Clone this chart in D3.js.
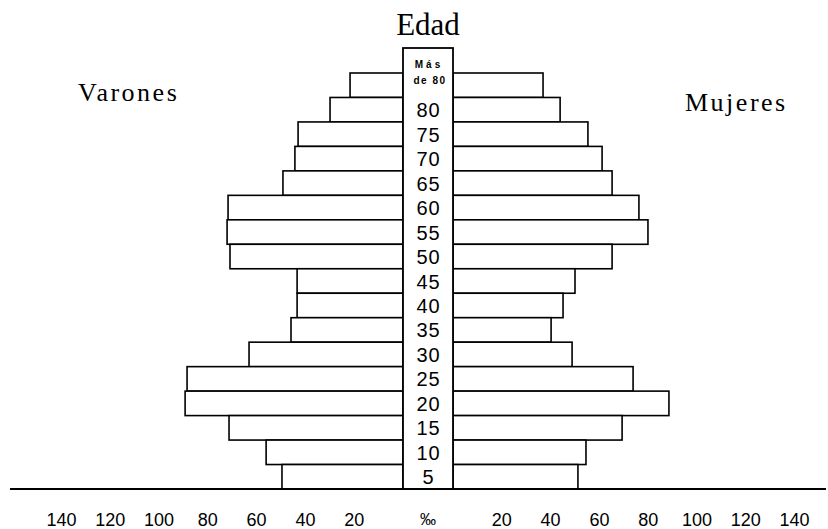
<!DOCTYPE html>
<html>
<head>
<meta charset="utf-8">
<script src="https://cdn.jsdelivr.net/npm/d3@7"></script>
<style>
  body { margin: 0; background: #fff; }
  svg { display: block; }
</style>
</head>
<body>
<svg id="chart" width="828" height="529"></svg>
<script>
// age groups, top to bottom
var ages = ["Más de 80", "80", "75", "70", "65", "60", "55", "50", "45", "40", "35", "30", "25", "20", "15", "10", "5"];
// per mil
var varones = [21.7, 29.9, 43.0, 44.3, 49.2, 71.7, 72.1, 70.9, 43.4, 43.4, 45.9, 63.1, 88.5, 89.3, 71.3, 56.1, 49.6];
var mujeres = [36.9, 43.9, 55.3, 61.1, 65.2, 76.2, 79.9, 65.2, 50.0, 45.1, 40.2, 48.8, 73.8, 88.5, 69.3, 54.5, 51.2];
var leftTicks = [140, 120, 100, 80, 60, 40, 20];
var rightTicks = [20, 40, 60, 80, 100, 120, 140];

var svg = d3.select("#chart");

var colL = 403, colR = 453, baseY = 489;
var ppu = 2.44;

var xL = d3.scaleLinear().domain([0, 140]).range([colL, colL - 140 * ppu]);
var xR = d3.scaleLinear().domain([0, 140]).range([colR, colR + 140 * ppu]);
var y = d3.scaleBand().domain(ages).range([73, baseY]).paddingInner(0);

var serif = "'Liberation Serif', 'DejaVu Serif', serif";
var sans = "'Liberation Sans', Arial, sans-serif";

// bars
svg.append("g").selectAll("rect").data(ages).enter().append("rect")
    .attr("x", function(d, i) { return xL(varones[i]) })
    .attr("y", function(d) { return y(d) })
    .attr("width", function(d, i) { return colL - xL(varones[i]) })
    .attr("height", y.bandwidth())
    .attr("fill", "#fff")
    .attr("stroke", "#000")
    .attr("stroke-width", 1.6);

svg.append("g").selectAll("rect").data(ages).enter().append("rect")
    .attr("x", colR)
    .attr("y", function(d) { return y(d) })
    .attr("width", function(d, i) { return xR(mujeres[i]) - colR })
    .attr("height", y.bandwidth())
    .attr("fill", "#fff")
    .attr("stroke", "#000")
    .attr("stroke-width", 1.6);

// centre column
svg.append("rect")
    .attr("x", colL).attr("y", 48)
    .attr("width", colR - colL).attr("height", baseY - 48)
    .attr("fill", "#fff")
    .attr("stroke", "#000")
    .attr("stroke-width", 1.8);

// base line
svg.append("line")
    .attr("x1", 10).attr("x2", 826)
    .attr("y1", baseY).attr("y2", baseY)
    .attr("stroke", "#000")
    .attr("stroke-width", 2.2);

// age labels
var cx = (colL + colR) / 2;
svg.append("g").selectAll("text").data(ages.slice(1)).enter().append("text")
    .attr("x", cx + 0.5)
    .attr("y", function(d) { return y(d) + y.bandwidth() / 2 + 7.5 })
    .attr("text-anchor", "middle")
    .attr("font-family", sans)
    .attr("font-size", 20)
    .attr("letter-spacing", 1)
    .text(function(d) { return d });

var topLabel = svg.append("text")
    .attr("text-anchor", "middle")
    .attr("font-family", sans)
    .attr("font-size", 10)
    .attr("font-weight", "bold");
topLabel.append("tspan").attr("x", cx + 1).attr("y", y(ages[0]) - 5)
    .attr("letter-spacing", 3).text("Más");
topLabel.append("tspan").attr("x", cx + 2).attr("y", y(ages[0]) + 11)
    .attr("letter-spacing", 1.5).text("de 80");

// titles
svg.append("text")
    .attr("x", cx).attr("y", 35)
    .attr("text-anchor", "middle")
    .attr("font-family", serif)
    .attr("font-size", 31)
    .text("Edad");

svg.append("text")
    .attr("x", 78).attr("y", 101)
    .attr("font-family", serif)
    .attr("font-size", 26)
    .attr("letter-spacing", 2.5)
    .text("Varones");

svg.append("text")
    .attr("x", 685).attr("y", 111)
    .attr("font-family", serif)
    .attr("font-size", 26)
    .attr("letter-spacing", 2.5)
    .text("Mujeres");

// tick labels
svg.append("g").selectAll("text").data(leftTicks).enter().append("text")
    .attr("x", function(d) { return xL(d) })
    .attr("y", 526)
    .attr("text-anchor", "middle")
    .attr("font-family", sans)
    .attr("font-size", 18)
    .text(function(d) { return d });

svg.append("g").selectAll("text").data(rightTicks).enter().append("text")
    .attr("x", function(d) { return xR(d) })
    .attr("y", 526)
    .attr("text-anchor", "middle")
    .attr("font-family", sans)
    .attr("font-size", 18)
    .text(function(d) { return d });

svg.append("text")
    .attr("x", cx).attr("y", 525)
    .attr("text-anchor", "middle")
    .attr("font-family", sans)
    .attr("font-size", 16)
    .text("‰");
</script>
</body>
</html>
